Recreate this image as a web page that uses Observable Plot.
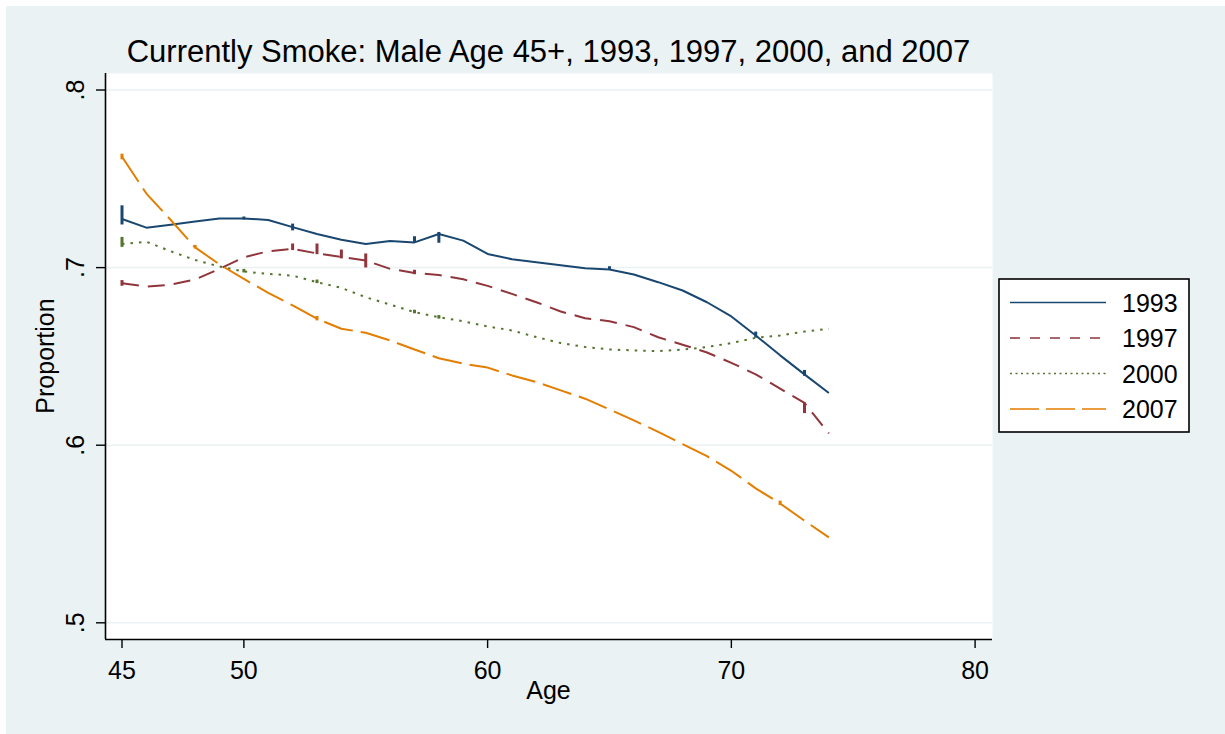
<!DOCTYPE html>
<html>
<head>
<meta charset="utf-8">
<script src="https://cdn.jsdelivr.net/npm/d3@7"></script>
<script src="https://cdn.jsdelivr.net/npm/@observablehq/plot@0.6"></script>
<style>
  html, body { margin: 0; padding: 0; background: #ffffff; }
  #wrap { position: relative; width: 1225px; height: 734px; overflow: hidden;
          font-family: "Liberation Sans", Arial, Helvetica, sans-serif; color: #000; }
  #bg { position: absolute; left: 6px; top: 6px; right: 0; bottom: 0; background: #eaf2f3; }
  #chart { position: absolute; left: 0; top: 0; }
  .lbl { position: absolute; white-space: nowrap; line-height: 1; }
  #title { left: 0; width: 1097px; text-align: center; top: 36px; font-size: 31px; }
  #xlabel { left: 0; width: 1097px; text-align: center; top: 678px; font-size: 25px; }
  #ylabel { left: 45px; top: 356px; font-size: 25px; transform: translate(-50%, -50%) rotate(-90deg); }
  #legend { position: absolute; left: 0; top: 0; }
</style>
</head>
<body>
<div id="wrap">
  <div id="bg"></div>
  <div id="chart"></div>
  <div id="title" class="lbl">Currently Smoke: Male Age 45+, 1993, 1997, 2000, and 2007</div>
  <div id="xlabel" class="lbl">Age</div>
  <div id="ylabel" class="lbl">Proportion</div>
  <svg id="legend" width="1225" height="734"></svg>
</div>
<script>
// ---- data ----
const ages = [45,46,47,48,49,50,51,52,53,54,55,56,57,58,59,60,61,62,63,64,65,66,67,68,69,70,71,72,73,74];
const v1993 = [0.7274,0.7225,0.7242,0.7260,0.7277,0.7277,0.7268,0.7228,0.7189,0.7157,0.7133,0.7150,0.7142,0.7189,0.7152,0.7077,0.7047,0.7030,0.7013,0.6996,0.6989,0.6961,0.6918,0.6871,0.6805,0.6725,0.6618,0.6506,0.6399,0.6294];
const v1997 = [0.6912,0.6893,0.6904,0.6933,0.6993,0.7058,0.7092,0.7105,0.7080,0.7060,0.7040,0.6993,0.6970,0.6959,0.6934,0.6897,0.6852,0.6805,0.6753,0.6715,0.6698,0.6665,0.6608,0.6566,0.6522,0.6464,0.6399,0.6319,0.6238,0.6066];
const v2000 = [0.7133,0.7146,0.7092,0.7043,0.7006,0.6978,0.6965,0.6955,0.6918,0.6886,0.6833,0.6792,0.6749,0.6721,0.6698,0.6669,0.6646,0.6609,0.6575,0.6553,0.6539,0.6534,0.6530,0.6538,0.6553,0.6575,0.6605,0.6618,0.6640,0.6656];
const v2007 = [0.7624,0.7417,0.7268,0.7114,0.7018,0.6936,0.6858,0.6787,0.6712,0.6656,0.6633,0.6590,0.6539,0.6490,0.6459,0.6437,0.6393,0.6356,0.6309,0.6262,0.6202,0.6140,0.6075,0.6006,0.5938,0.5856,0.5757,0.5672,0.5575,0.5481];

// short vertical spreads at some ages (multiple observations at one age)
const spreadSeries = ["1993","1993","1993","1993","1993","1993","1993","1993",
                      "1997","1997","1997","1997","1997","1997","1997",
                      "2000","2000","2000","2000","2000",
                      "2007","2007","2007","2007"];
const spreadAge = [45,50,52,57,58,65,71,73, 45,52,53,54,55,57,73, 45,50,53,57,58, 45,48,53,72];
const spreadLo  = [0.7240,0.7268,0.7207,0.7142,0.7137,0.6989,0.6603,0.6388,
                   0.6895,0.7096,0.7073,0.7049,0.6998,0.6960,0.6178,
                   0.7114,0.6970,0.6910,0.6740,0.6710,
                   0.7607,0.7105,0.6700,0.5660];
const spreadHi  = [0.7348,0.7285,0.7245,0.7174,0.7198,0.7005,0.6637,0.6421,
                   0.6927,0.7133,0.7133,0.7099,0.7077,0.6985,0.6238,
                   0.7170,0.6990,0.6930,0.6760,0.6730,
                   0.7639,0.7125,0.6725,0.5685];

const seriesNames = ["1993","1997","2000","2007"];
const seriesValues = [v1993, v1997, v2000, v2007];
const seriesColors = ["#1a476f","#90353b","#55752f","#e37e00"];
const seriesDash = [null, "17,9", "2.5,6", "30,8"];
const legendDash = [null, "10,10", "2,3.5", "29,7"];

const xTicks = [45,50,60,70,80];
const yTicks = [0.5,0.6,0.7,0.8];
const xDomain = [44.323, 80.714];
const yDomain = [0.4906, 0.8093];

// ---- build tables ----
const rows = seriesNames.map((s, i) => ages.map((a, j) => ({series: s, age: a, value: seriesValues[i][j]})));
const spreads = spreadAge.map((a, i) => ({series: spreadSeries[i], age: a, lo: spreadLo[i], hi: spreadHi[i]}));
const fmtY = d => d3.format(".1f")(d).replace(/^0/, "");

const marks = [
  Plot.frame({fill: "white", stroke: "none"}),
  Plot.ruleY(yTicks, {stroke: "#eaf2f3", strokeWidth: 1.5}),
];
seriesNames.forEach((s, i) => {
  marks.push(Plot.line(rows[i], {x: "age", y: "value", stroke: seriesColors[i], strokeWidth: 2,
    strokeDasharray: seriesDash[i] || undefined, strokeLinecap: "butt", strokeLinejoin: "round"}));
  marks.push(Plot.ruleX(spreads.filter(d => d.series === s), {x: "age", y1: "lo", y2: "hi",
    stroke: seriesColors[i], strokeWidth: 3}));
});
marks.push(
  Plot.ruleX([xDomain[0]], {y1: yDomain[0], y2: yDomain[1], stroke: "#000", strokeWidth: 1.6}),
  Plot.ruleY([yDomain[0]], {x1: xDomain[0], x2: xDomain[1], stroke: "#000", strokeWidth: 1.6}),
  Plot.axisX(xTicks, {anchor: "bottom", tickSize: 9, tickPadding: 13, fontSize: 25, label: null,
    stroke: "#000", strokeWidth: 1.4, fill: "#000"}),
  Plot.axisY(yTicks, {anchor: "left", tickSize: 9, tickFormat: () => "", label: null,
    stroke: "#000", strokeWidth: 1.4}),
  Plot.text(yTicks, {y: d => d, text: fmtY, frameAnchor: "left", rotate: -90, dx: -30,
    textAnchor: "middle", lineAnchor: "middle", fontSize: 25, fill: "#000"})
);

const chart = Plot.plot({
  width: 1225, height: 734,
  marginLeft: 105, marginRight: 233, marginTop: 73, marginBottom: 95,
  x: {domain: xDomain, axis: null},
  y: {domain: yDomain, axis: null},
  style: {background: "transparent", fontFamily: "'Liberation Sans', Arial, sans-serif", color: "#000", overflow: "visible"},
  marks
});
document.getElementById("chart").appendChild(chart);

// ---- legend ----
const lg = d3.select("#legend");
lg.append("rect").attr("x", 999).attr("y", 279).attr("width", 190).attr("height", 153)
  .attr("fill", "white").attr("stroke", "#000").attr("stroke-width", 1.6);
const rowY = [302.5, 338, 373.5, 409];
seriesNames.forEach((s, i) => {
  lg.append("line").attr("x1", 1010).attr("x2", 1106).attr("y1", rowY[i]).attr("y2", rowY[i])
    .attr("stroke", seriesColors[i]).attr("stroke-width", 1.6)
    .attr("stroke-dasharray", legendDash[i]);
  lg.append("text").attr("x", 1122).attr("y", rowY[i]).attr("dy", "0.36em")
    .attr("font-size", 25).attr("font-family", "'Liberation Sans', Arial, sans-serif")
    .attr("fill", "#000").text(s);
});
</script>
</body>
</html>
